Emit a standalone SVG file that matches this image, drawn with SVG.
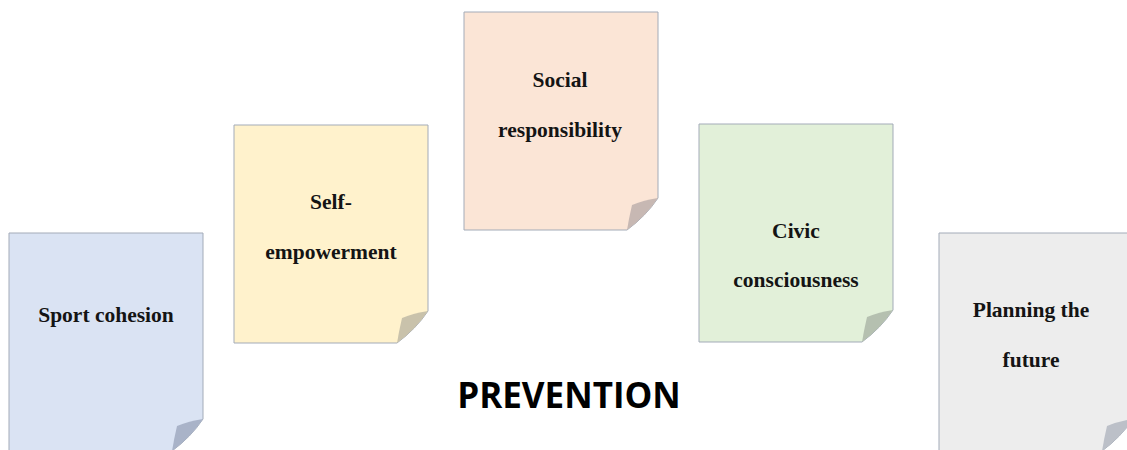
<svg xmlns="http://www.w3.org/2000/svg" xmlns:xlink="http://www.w3.org/1999/xlink" width="1127" height="450" viewBox="0 0 1127 450">
  <style>
    .page { stroke: #a3abb8; stroke-width: 1; }
    .fold { stroke: none; }
    .label { font-family: "Liberation Serif", "Times New Roman", serif; font-weight: bold; font-size: 21.5px; fill: #141414; text-anchor: middle; }
    .title { font-family: "Open Sans", "Noto Sans", sans-serif; font-weight: bold; font-size: 35px; fill: #000; text-anchor: middle; }
  </style>
  <defs>
    <!-- sheet of paper 194x218 with a curled bottom-right corner -->
    <path id="sheet" d="M0,0 H194 V186 Q182,204 163,218 H0 Z"/>
    <path id="curl" d="M194,186 Q180,188 168,193 Q165,206 163,218 Q182,204 194,186 Z"/>
  </defs>
  <rect width="1127" height="450" fill="#ffffff"/>

  <g id="node-sport-cohesion" transform="translate(9,233)">
    <use xlink:href="#sheet" class="page" fill="#dae3f3"/>
    <use xlink:href="#curl" class="fold" fill="#a9b3c8"/>
    <text class="label" x="97" y="89">Sport cohesion</text>
  </g>

  <g id="node-self-empowerment" transform="translate(234,125)">
    <use xlink:href="#sheet" class="page" fill="#fff2cc"/>
    <use xlink:href="#curl" class="fold" fill="#c9c2ab"/>
    <text class="label" x="97" y="84">Self-</text>
    <text class="label" x="97" y="134">empowerment</text>
  </g>

  <g id="node-social-responsibility" transform="translate(464,12)">
    <use xlink:href="#sheet" class="page" fill="#fbe5d6"/>
    <use xlink:href="#curl" class="fold" fill="#c7b8b3"/>
    <text class="label" x="96" y="75">Social</text>
    <text class="label" x="96" y="125">responsibility</text>
  </g>

  <g id="node-civic-consciousness" transform="translate(699,124)">
    <use xlink:href="#sheet" class="page" fill="#e2f0d9"/>
    <use xlink:href="#curl" class="fold" fill="#b5c0b0"/>
    <text class="label" x="97" y="114">Civic</text>
    <text class="label" x="97" y="163">consciousness</text>
  </g>

  <g id="node-planning-the-future" transform="translate(939,233)">
    <use xlink:href="#sheet" class="page" fill="#ededed"/>
    <use xlink:href="#curl" class="fold" fill="#bcc0c8"/>
    <text class="label" x="92" y="84">Planning the</text>
    <text class="label" x="92" y="134">future</text>
  </g>

  <g id="connectors"></g>

  <g id="node-prevention">
    <text class="title" x="569" y="408">PREVENTION</text>
  </g>
</svg>
